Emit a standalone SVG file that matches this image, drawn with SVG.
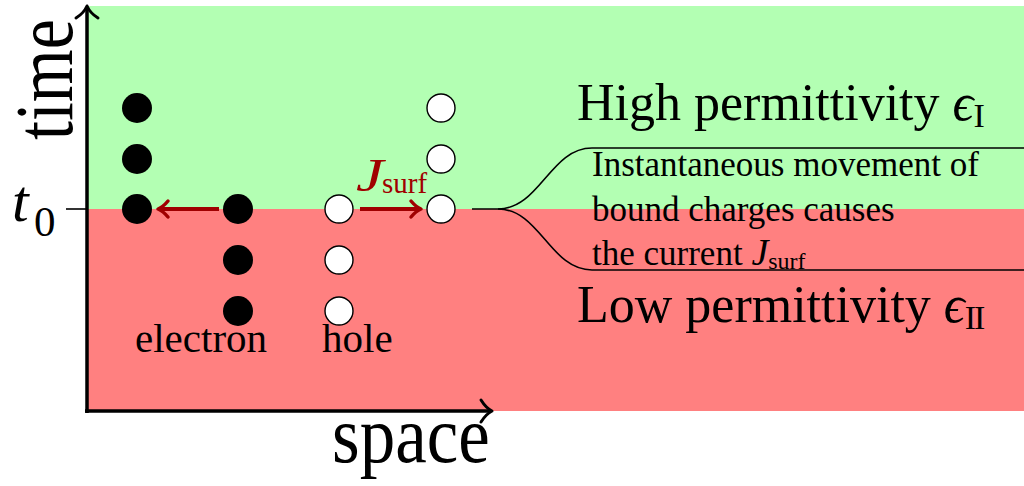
<svg xmlns="http://www.w3.org/2000/svg" width="1024" height="486" viewBox="0 0 1024 486">
<style>
.serif{font-family:"Liberation Serif","Times New Roman",serif;fill:#000}
.it{font-style:italic}
.red{fill:#a00000}
.axis{stroke:#000;stroke-width:3.5;fill:none;stroke-linecap:butt}
.head{stroke:#000;stroke-width:3;fill:none;stroke-linecap:round;stroke-linejoin:round}
.filled{fill:#000}
.hole{fill:#fff;stroke:#000;stroke-width:1.4}
.curr{stroke:#a00000;stroke-width:4;fill:none}
.currhead{stroke:#a00000;stroke-width:3.5;fill:none;stroke-linecap:round;stroke-linejoin:round}
.brace{stroke:#000;stroke-width:1.6;fill:none}
</style>
<g id="background">
<rect x="88" y="6" width="936" height="203" fill="#b3ffb3"/>
<rect x="88" y="209" width="936" height="202" fill="#ff8080"/>
</g>
<g id="axes">
<line class="axis" x1="87" y1="413" x2="87" y2="7"/>
<path class="head" d="M76,18 Q84,13 87,6 Q90,13 98,18"/>
<line class="axis" x1="85" y1="411" x2="491" y2="411"/>
<path class="head" d="M481,400 Q486,408 492,411 Q486,414 481,422"/>
<line x1="66" y1="209" x2="87" y2="209" stroke="#000" stroke-width="1.6"/>
<text class="serif" transform="translate(72,140) rotate(-90) scale(1,1.2)" font-size="68">time</text>
<text class="serif" transform="translate(332,462) scale(1,1.13)" font-size="71">space</text>
<text class="serif it" x="12" y="221" font-size="60">t</text>
<text class="serif" x="34" y="236" font-size="43">0</text>
</g>
<g id="connectors">
<line class="curr" x1="219" y1="209" x2="160" y2="209"/>
<path class="currhead" d="M168,201 Q163,207 158,209 Q163,211 168,217"/>
<line class="curr" x1="360" y1="209" x2="418" y2="209"/>
<path class="currhead" d="M411,201 Q416,207 421,209 Q416,211 411,217"/>
<path class="brace" d="M472,209 L498,209 C540,209 550,148 592,148 L1024,148"/>
<path class="brace" d="M498,209 C540,209 550,270 592,270 L1024,270"/>
</g>
<g id="electron-charges">
<circle class="filled" cx="137" cy="108" r="15"/>
<circle class="filled" cx="137" cy="159" r="15"/>
<circle class="filled" cx="137" cy="209" r="15"/>
<circle class="filled" cx="238" cy="209" r="15"/>
<circle class="filled" cx="238" cy="260" r="15"/>
<circle class="filled" cx="238" cy="311" r="15"/>
<text class="serif" x="135" y="352" font-size="41">electron</text>
</g>
<g id="hole-charges">
<circle class="hole" cx="339" cy="209" r="14"/>
<circle class="hole" cx="339" cy="260" r="14"/>
<circle class="hole" cx="339" cy="311" r="14"/>
<circle class="hole" cx="441" cy="108" r="14"/>
<circle class="hole" cx="441" cy="159" r="14"/>
<circle class="hole" cx="441" cy="209" r="14"/>
<text class="serif" x="322" y="352" font-size="41">hole</text>
</g>
<g id="current-label">
<text class="serif it red" transform="translate(356,191) scale(1.35,1)" font-size="46">J</text>
<text class="serif red" x="382" y="193" font-size="29">surf</text>
</g>
<g id="high-label">
<text class="serif" x="577" y="120" font-size="52">High permittivity <tspan class="it">ϵ</tspan><tspan font-size="34" dy="7">I</tspan></text>
</g>
<g id="low-label">
<text class="serif" x="577" y="322" font-size="52">Low permittivity <tspan class="it">ϵ</tspan><tspan font-size="34" dy="7" letter-spacing="-2">II</tspan></text>
</g>
<g id="note">
<text class="serif" x="592" y="176" font-size="35">Instantaneous movement of</text>
<text class="serif" x="592" y="221" font-size="35">bound charges causes</text>
<text class="serif" x="592" y="265" font-size="35">the current <tspan class="it" font-size="38">J</tspan><tspan font-size="24" dy="4">surf</tspan></text>
</g>
</svg>
